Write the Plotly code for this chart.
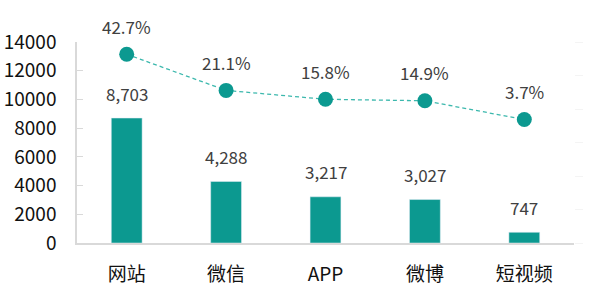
import plotly.graph_objects as go

categories = ["网站", "微信", "APP", "微博", "短视频"]
counts = [8703, 4288, 3217, 3027, 747]
shares = [42.7, 21.1, 15.8, 14.9, 3.7]
y_ticks = [0, 2000, 4000, 6000, 8000, 10000, 12000, 14000]

bar_color = "#0c9990"
line_color = "#3cb8ad"
font = "Noto Sans CJK SC"

fig = go.Figure()
fig.add_trace(go.Bar(x=categories, y=counts, marker_color=bar_color, width=0.31,
                     yaxis="y", hoverinfo="skip"))
fig.add_trace(go.Scatter(x=categories, y=shares, yaxis="y2", mode="lines+markers",
                         line=dict(color=line_color, width=1.3, dash="4px,3px"),
                         marker=dict(size=15, color=bar_color), hoverinfo="skip"))

for c, v in zip(categories, counts):
    fig.add_annotation(x=c, y=v, yref="y", text=f"{v:,}", showarrow=False,
                       yshift=25, font=dict(family=font, size=17, color="#404040"))
for c, s in zip(categories, shares):
    fig.add_annotation(x=c, y=s, yref="y2", text=f"{s}%", showarrow=False,
                       yshift=28, font=dict(family=font, size=17, color="#404040"))

fig.update_layout(
    width=604, height=305,
    margin=dict(l=77, r=30, t=42, b=62),
    paper_bgcolor="white", plot_bgcolor="white",
    showlegend=False,
    bargap=0.69,
    font=dict(family=font, color="#000000"),
    xaxis=dict(showline=True, linecolor="#d9d9d9", linewidth=1.5, ticks="",
               tickfont=dict(size=19, family=font, color="#111111"),
               ticklabelstandoff=13, range=[-0.5, 4.5], automargin=False),
    yaxis=dict(range=[0, 14000], tickvals=y_ticks,
               ticktext=[str(t) for t in y_ticks], showgrid=False,
               showline=True, linecolor="#d9d9d9", linewidth=1.5,
               ticks="inside", ticklen=6, tickcolor="#d9d9d9",
               tickfont=dict(size=19, family=font, color="#111111"),
               ticklabelstandoff=15, zeroline=False, automargin=False),
    yaxis2=dict(range=[-70, 50], overlaying="y", side="right", showgrid=False,
                showticklabels=False, showline=False, zeroline=False,
                tickvals=[-70, -50, -30, -10, 10, 30, 50],
                ticks="outside", ticklen=8, tickcolor="#f4f4f4", automargin=False),
)

fig.write_html("out.html")
